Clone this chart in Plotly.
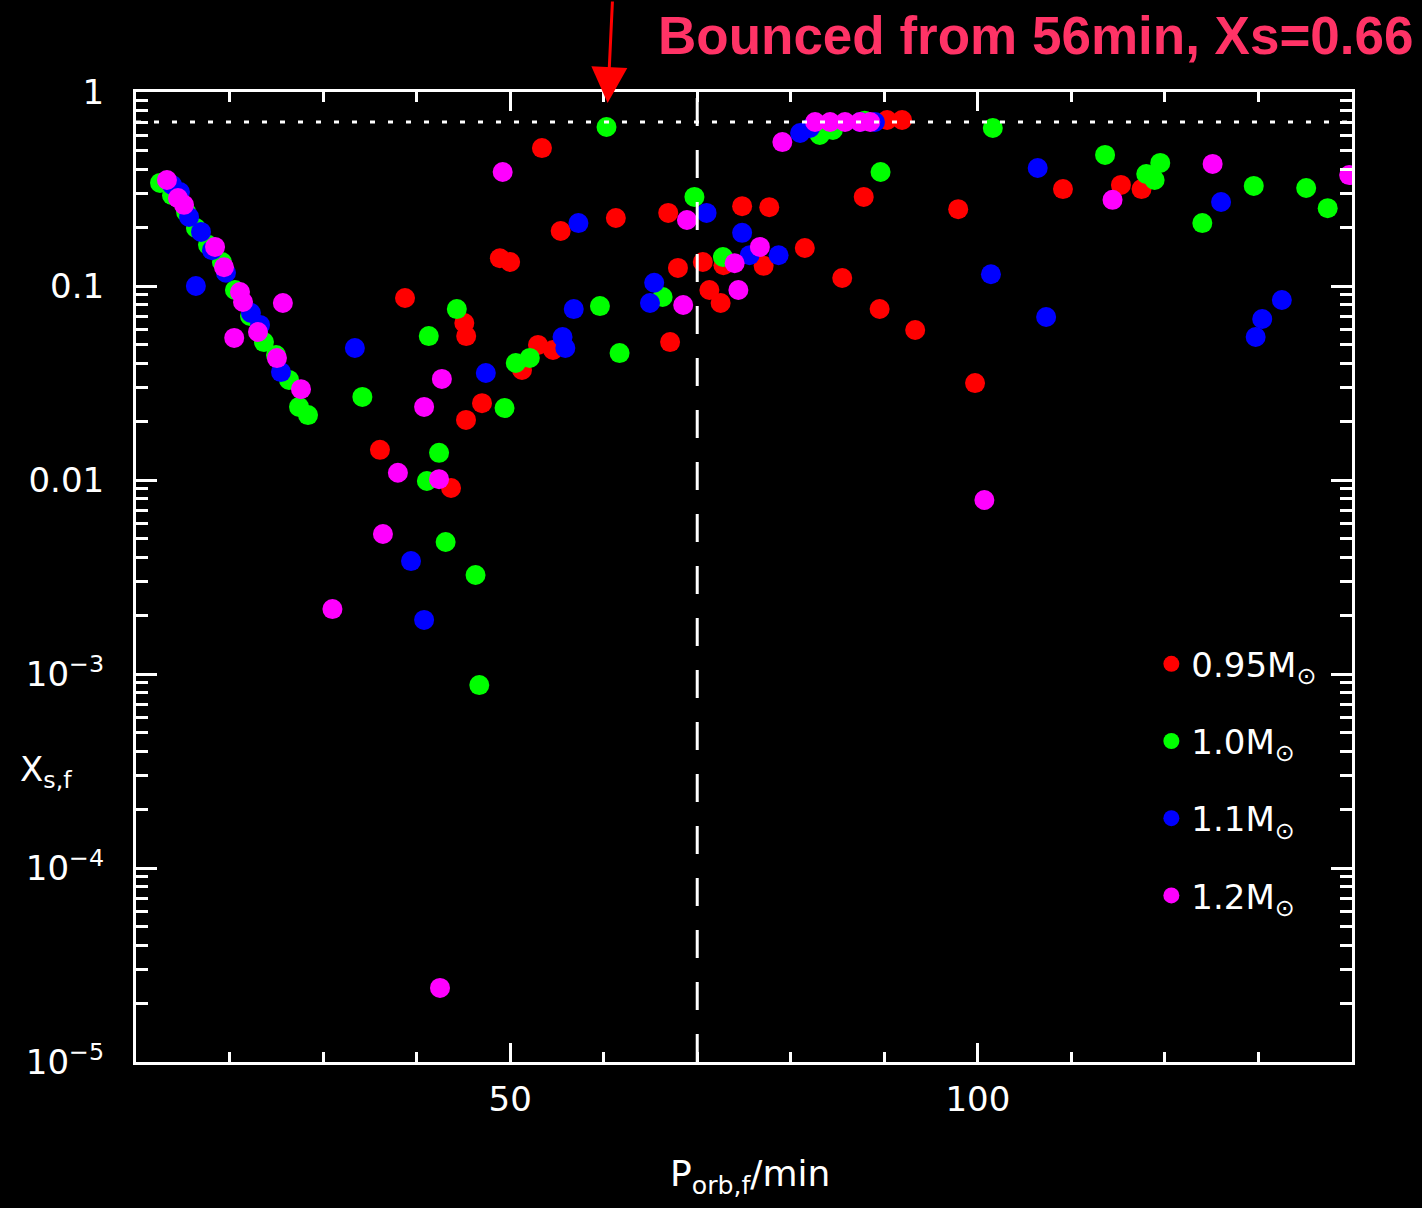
import math
import plotly.graph_objects as go

# Final orbital period (min) and final surface hydrogen abundance X_s,f
# for each initial donor mass.
p_095 = [38.76, 36.08, 43.68, 45.28, 46.99, 45.1, 45.3, 48.9, 50.0, 52.98,
         54.58, 51.27, 53.4, 55.4, 61.3, 66.9, 67.1, 67.94, 70.6, 71.3,
         72.5, 72.8, 74.8, 77.7, 77.1, 81.5, 85.5, 89.5, 93.3, 99.7,
         87.8, 97.9, 109.1, 115.3, 117.5, 90.3, 91.9]
x_095 = [0.0867, 0.0143, 0.0091, 0.0204, 0.0249, 0.0645, 0.0552, 0.139, 0.133, 0.0497,
         0.0468, 0.0369, 0.514, 0.192, 0.224, 0.238, 0.0514, 0.124, 0.133, 0.0954,
         0.0817, 0.128, 0.258, 0.255, 0.127, 0.157, 0.110, 0.0761, 0.0593, 0.0316,
         0.288, 0.249, 0.316, 0.332, 0.316, 0.717, 0.717]

p_100 = [12.57, 13.85, 15.35, 16.41, 17.70, 19.19, 20.58, 22.19, 23.68, 24.97,
         26.36, 27.43, 28.39,
         44.3, 41.3, 34.2, 49.4, 50.6, 52.1, 59.6, 61.7, 66.3, 42.4, 41.1,
         43.1, 46.3, 46.7, 60.3, 69.7, 72.75, 83.1, 84.5, 87.9, 89.6,
         101.6, 113.6, 118.0, 119.5, 118.9, 124.0, 129.5, 135.1, 137.4]
x_100 = [0.340, 0.294, 0.241, 0.199, 0.163, 0.133, 0.0954, 0.070, 0.0514, 0.0441,
         0.0328, 0.0238, 0.0216,
         0.076, 0.0552, 0.0268, 0.0235, 0.0401, 0.0426, 0.0788, 0.0451, 0.0878, 0.0138, 0.00988,
         0.00479, 0.00324, 0.000877, 0.66, 0.288, 0.141, 0.600, 0.637, 0.71, 0.387,
         0.652, 0.474, 0.378, 0.431, 0.352, 0.211, 0.328, 0.320, 0.252]

p_110 = [13.85, 14.70, 15.67, 16.95, 18.12, 19.62, 22.29, 23.26, 25.50,
         16.4, 33.4, 47.4, 55.6, 55.9, 56.8, 57.3, 65.4, 64.95, 39.4, 40.8,
         71.0, 74.8, 75.6, 78.7, 81.0, 82.05, 87.4, 89.0, 106.4, 101.4,
         107.3, 126.0, 132.5, 130.4, 129.7]
x_110 = [0.332, 0.305, 0.227, 0.190, 0.153, 0.117, 0.0726, 0.063, 0.036,
         0.1, 0.0479, 0.0356, 0.0546, 0.0479, 0.076, 0.211, 0.104, 0.0817, 0.00382, 0.0019,
         0.238, 0.188, 0.144, 0.144, 0.615, 0.652, 0.70, 0.70, 0.406, 0.115,
         0.0692, 0.271, 0.0847, 0.0676, 0.0546]

p_120 = [13.31, 14.49, 15.13, 18.45, 19.41, 21.12, 21.44, 23.04, 25.07, 27.64,
         25.7, 20.5, 49.2, 42.7, 40.8, 38.0, 42.4, 36.4, 31.0, 42.5,
         68.5, 68.9, 76.7, 74.0, 74.4, 79.1, 82.6, 84.2, 85.8, 87.4, 88.5,
         100.7, 114.4, 125.1, 139.7]
x_120 = [0.352, 0.284, 0.262, 0.159, 0.125, 0.0931, 0.0827, 0.0579, 0.0425, 0.0294,
         0.0817, 0.054, 0.387, 0.0332, 0.0238, 0.0109, 0.0101, 0.00527, 0.00216, 2.41e-5,
         0.0798, 0.219, 0.159, 0.131, 0.0954, 0.552, 0.70, 0.70, 0.70, 0.70, 0.70,
         0.00789, 0.278, 0.426, 0.373]

series_names = ["0.95M<sub>⊙</sub>", "1.0M<sub>⊙</sub>", "1.1M<sub>⊙</sub>", "1.2M<sub>⊙</sub>"]
series_colors = ["#ff0000", "#00ff00", "#0000ff", "#ff00ff"]

# Reference lines: period minimum and initial hydrogen abundance
P_MIN = 70
XS_INIT = 0.70

# The bounced model highlighted by the callout
bounce_p = 60.3
bounce_x = 0.66

y_tickvals = [1e-5, 1e-4, 1e-3, 0.01, 0.1, 1]
y_ticktext = ["10<sup>−5</sup>", "10<sup>−4</sup>", "10<sup>−3</sup>", "0.01", "0.1", "1"]
x_tickvals = [50, 100]
x_ticktext = ["50", "100"]

FONT = "DejaVu Sans"
WHITE = "#ffffff"

fig = go.Figure()
for name, color, px, xs in zip(series_names, series_colors,
                               [p_095, p_100, p_110, p_120],
                               [x_095, x_100, x_110, x_120]):
    fig.add_trace(go.Scatter(
        x=px, y=xs, mode="markers", name=name, legendgroup=name,
        marker=dict(color=color, size=20, line=dict(width=0)),
    ))

# dashed vertical line at the period minimum
fig.add_shape(type="line", xref="x", yref="paper", x0=P_MIN, x1=P_MIN, y0=0, y1=1,
              line=dict(color=WHITE, width=3, dash="28px,24px"), layer="above")
# dotted horizontal line at the initial abundance
fig.add_shape(type="line", xref="paper", yref="y", x0=0, x1=1, y0=XS_INIT, y1=XS_INIT,
              line=dict(color=WHITE, width=3, dash="5px,13px"), layer="above")

y_minor = [m * 10 ** k for k in range(-5, 0) for m in range(2, 10)]
x_minor = [v for v in range(20, 140, 10) if v not in x_tickvals]

fig.update_xaxes(
    range=[10, 140], tickmode="array", tickvals=x_tickvals, ticktext=x_ticktext,
    ticks="inside", ticklen=19, tickwidth=3, tickcolor=WHITE,
    showline=True, linecolor=WHITE, linewidth=3, mirror="ticks",
    showgrid=False, zeroline=False, ticklabelstandoff=5,
    tickfont=dict(family=FONT, size=34, color=WHITE),
    minor=dict(tickmode="array", tickvals=x_minor, ticks="inside", ticklen=10,
               tickwidth=3, tickcolor=WHITE, showgrid=False),
)
fig.update_yaxes(
    type="log", range=[-5, 0], tickmode="array", tickvals=y_tickvals, ticktext=y_ticktext,
    ticks="inside", ticklen=21, tickwidth=3, tickcolor=WHITE,
    showline=True, linecolor=WHITE, linewidth=3, mirror="ticks",
    showgrid=False, zeroline=False, ticklabelstandoff=22,
    tickfont=dict(family=FONT, size=34, color=WHITE),
    minor=dict(tickmode="array", tickvals=y_minor, ticks="inside", ticklen=12,
               tickwidth=3, tickcolor=WHITE, showgrid=False),
)

fig.add_annotation(text="X<sub>s,f</sub>", xref="paper", yref="paper",
                   x=-0.097, y=0.30, xanchor="left", yanchor="middle", showarrow=False,
                   font=dict(family=FONT, size=34, color=WHITE))
fig.add_annotation(text="P<sub>orb,f</sub>/min", xref="paper", yref="paper",
                   x=0.505, y=-0.118, xanchor="center", yanchor="middle", showarrow=False,
                   font=dict(family=FONT, size=36, color=WHITE))

# callout for the bounced model
fig.add_annotation(text="<b>Bounced from 56min, Xs=0.66</b>", xref="paper", yref="paper",
                   x=1.053, y=1.058, xanchor="right", yanchor="middle", showarrow=False,
                   font=dict(family="Liberation Sans", size=53, color="#ff3366"))
fig.add_annotation(text="", x=bounce_p, y=math.log10(bounce_x), xref="x", yref="y",
                   showarrow=True, arrowhead=2, arrowsize=2.4, arrowwidth=3,
                   arrowcolor="#ff0000", ax=6, ay=-130, standoff=24)

fig.update_layout(
    width=1422, height=1208,
    margin=dict(l=136, r=70, t=92, b=146),
    paper_bgcolor="#000000", plot_bgcolor="#000000",
    showlegend=True,
    legend=dict(x=0.835, y=0.44, xanchor="left", yanchor="top",
                bgcolor="rgba(0,0,0,0)", tracegroupgap=30,
                font=dict(family=FONT, size=34, color=WHITE),
                itemsizing="trace"),
)

fig.write_html("out.html")
